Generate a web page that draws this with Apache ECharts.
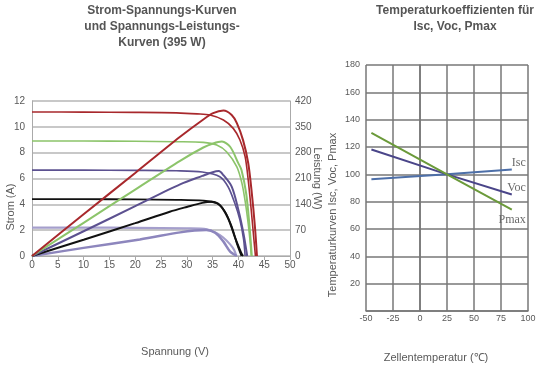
<!DOCTYPE html>
<html><head><meta charset="utf-8">
<script src="https://cdn.jsdelivr.net/npm/echarts@6/dist/echarts.min.js"></script>
<style>html,body{margin:0;padding:0;background:#fff}#c{width:540px;height:365px}</style>
</head><body><div id="c"></div>
<script>
// ---- Left chart: I-V curves [V, A] ----
const ivRed = [[0,11.15],[10,11.14],[20,11.12],[28,11.08],[32,11.0],[34.5,10.91],[37.1,10.53],[39,9.88],[40.3,8.98],[41.3,7.69],[41.9,5.9],[42.5,3.5],[43.0,1.3],[43.3,0]];
const ivGreen = [[0,8.9],[10,8.9],[20,8.88],[28,8.85],[33.2,8.8],[35.8,8.59],[37.7,8.07],[39.7,6.9],[40.7,5.6],[41.4,4.0],[41.9,2.5],[42.3,1.0],[42.5,0]];
const ivPurple = [[0,6.65],[10,6.65],[20,6.63],[28,6.6],[33,6.5],[36.4,6.14],[38,5.36],[39.3,4.08],[40.3,2.79],[41,1.3],[41.3,0]];
const ivBlack = [[0,4.4],[10,4.4],[20,4.38],[28,4.35],[33.2,4.28],[35.8,4.08],[37.4,3.43],[38.7,2.27],[39.7,0.98],[40.6,0]];
const ivLavender = [[0,2.2],[10,2.2],[20,2.18],[30,2.14],[33.9,2.07],[35.8,1.76],[37,1.45],[38.4,0.9],[39.2,0.45],[39.6,0]];
// ---- Left chart: P-V curves [V, W] ----
const pvRed = [[0,0],[10,113],[20,225],[28.7,323],[33.2,370],[35.1,387],[37.1,394],[38.7,382],[39.7,360],[40.9,314],[41.9,252],[42.6,170],[43.2,80],[43.6,0]];
const pvGreen = [[0,0],[10,90],[20,180],[28.7,258],[33.2,294],[35.1,305],[36.8,310],[38.4,296],[40,251],[40.6,233],[41.5,170],[42.1,90],[42.6,0]];
const pvPurple = [[0,0],[10,67],[20,135],[28.7,194],[33,217],[35,227],[36.2,230],[37.1,219],[38.7,188],[40,125],[41,60],[41.7,0]];
const pvBlack = [[0,0],[10,44],[20,89],[26.7,120],[30,133],[33,144],[34.8,147],[36.4,138],[38,102],[39.3,52],[40.5,10],[40.9,0]];
const pvLavender = [[0,0],[10,22],[20.9,45],[28.7,64],[31.5,69],[33.8,70.5],[35.5,63],[37.1,39],[38.4,12],[39.7,0]];
// ---- Right chart: temperature coefficients ----
const cellTemps = [-45, 25, 85];
const iscPct = [96.4, 100, 103.5];
const vocPct = [118.2, 100, 85.2];
const pmaxPct = [130.4, 100, 74.2];
const coefNames = ['Isc', 'Voc', 'Pmax'];

const FONT = '"Liberation Sans", Arial, sans-serif';
const TXT = '#595959';
const chart = echarts.init(document.getElementById('c'), null, {renderer: 'canvas'});

function curve(data, color, width, yIdx) {
  return {type: 'line', xAxisIndex: 0, yAxisIndex: yIdx, data: data, showSymbol: false,
    smooth: 0.3, lineStyle: {color: color, width: width}, silent: true, z: 3};
}
function coef(values, name, color, labelPos) {
  const last = values.length - 1;
  const data = cellTemps.map((t, i) => i === last ? {value: [t, values[i]], label: {
    show: true, formatter: name, position: labelPos, align: 'right',
    offset: [14, labelPos === 'top' ? 4 : -1],
    fontFamily: '"Liberation Serif", "DejaVu Serif", serif', fontSize: 12, color: '#6a6a6a'}} : [t, values[i]]);
  return {type: 'line', xAxisIndex: 1, yAxisIndex: 2, data: data, showSymbol: true, symbol: 'circle', symbolSize: 0,
    lineStyle: {color: color, width: 2}, itemStyle: {color: color}, silent: true, z: 3};
}

const option = {
  animation: false,
  backgroundColor: '#fff',
  title: [
    {text: 'Strom-Spannungs-Kurven\nund Spannungs-Leistungs-\nKurven (395 W)', left: 157, top: -2, textAlign: 'center',
     textStyle: {fontFamily: FONT, fontSize: 12, fontWeight: 'bold', color: '#555', lineHeight: 16}},
    {text: 'Temperaturkoeffizienten für\nIsc, Voc, Pmax', left: 450, top: -2, textAlign: 'center',
     textStyle: {fontFamily: FONT, fontSize: 12, fontWeight: 'bold', color: '#555', lineHeight: 16}}
  ],
  grid: [
    {left: 32, top: 101, width: 258, height: 155, containLabel: false, outerBoundsMode: 'none'},
    {left: 366, top: 65, width: 162, height: 246, containLabel: false, outerBoundsMode: 'none'}
  ],
  xAxis: [
    {gridIndex: 0, type: 'value', min: 0, max: 50, interval: 5,
     name: 'Spannung (V)', nameLocation: 'middle', nameGap: 90,
     nameTextStyle: {fontFamily: FONT, fontSize: 11, color: TXT, padding: [0, 0, 0, 28]},
     axisLine: {lineStyle: {color: '#aaa', width: 1}}, axisTick: {show: true, length: 4, lineStyle: {color: '#aaa'}},
     axisLabel: {fontFamily: FONT, fontSize: 10, color: TXT, margin: 4}, splitLine: {show: false}},
    {gridIndex: 1, type: 'value', min: -50, max: 100, interval: 25,
     name: 'Zellentemperatur (℃)', nameLocation: 'middle', nameGap: 41,
     nameTextStyle: {fontFamily: FONT, fontSize: 11, color: TXT, padding: [0, 22, 0, 0]},
     axisLine: {lineStyle: {color: '#777', width: 1.5}}, axisTick: {show: false},
     axisLabel: {fontFamily: FONT, fontSize: 9, color: TXT, margin: 3},
     splitLine: {show: true, lineStyle: {color: '#777', width: 1.5}}}
  ],
  yAxis: [
    {gridIndex: 0, type: 'value', min: 0, max: 12, interval: 2, position: 'left',
     name: 'Strom (A)', nameLocation: 'middle', nameGap: 16, nameMoveOverlap: false,
     nameTextStyle: {fontFamily: FONT, fontSize: 11, color: TXT, padding: [0, 57, 0, 0]},
     axisLine: {show: true, lineStyle: {color: '#aaa', width: 1}}, axisTick: {show: false},
     axisLabel: {fontFamily: FONT, fontSize: 10, color: TXT, margin: 7},
     splitLine: {show: true, lineStyle: {color: '#c8c8c8', width: 2}}},
    {gridIndex: 0, type: 'value', min: 0, max: 420, interval: 70, position: 'right',
     name: 'Leistung (W)', nameLocation: 'middle', nameGap: 22, nameRotate: -90, nameMoveOverlap: false,
     nameTextStyle: {fontFamily: FONT, fontSize: 11, color: TXT},
     axisLine: {show: true, lineStyle: {color: '#aaa', width: 1}}, axisTick: {show: false},
     axisLabel: {fontFamily: FONT, fontSize: 10, color: TXT, margin: 5}, splitLine: {show: false}},
    {gridIndex: 1, type: 'value', min: 0, max: 180, interval: 20,
     name: 'Temperaturkurven Isc, Voc, Pmax', nameLocation: 'middle', nameGap: 28, nameMoveOverlap: false,
     nameTextStyle: {fontFamily: FONT, fontSize: 11, color: TXT, padding: [0, 54, 0, 0]},
     axisLine: {show: true, lineStyle: {color: '#777', width: 1.5}}, axisTick: {show: false},
     axisLabel: {fontFamily: FONT, fontSize: 9, color: TXT, margin: 6, showMinLabel: false},
     splitLine: {show: true, lineStyle: {color: '#777', width: 1.5}}}
  ],
  series: [
    curve(ivLavender, '#a59fcc', 2.2, 0),
    curve(pvLavender, '#8d86bd', 2.5, 1),
    curve(ivBlack, '#111', 1.8, 0),
    curve(pvBlack, '#111', 2, 1),
    curve(ivPurple, '#5c5190', 1.6, 0),
    curve(pvPurple, '#5c5190', 2, 1),
    curve(ivGreen, '#8cc46a', 1.6, 0),
    curve(pvGreen, '#8cc46a', 2, 1),
    curve(ivRed, '#a8282c', 1.6, 0),
    curve(pvRed, '#a8282c', 2, 1),
    coef(iscPct, coefNames[0], '#4d6fa8', 'top'),
    coef(vocPct, coefNames[1], '#4a4589', 'top'),
    coef(pmaxPct, coefNames[2], '#6b9a3a', 'bottom')
  ]
};
chart.setOption(option);
</script>
</body></html>
